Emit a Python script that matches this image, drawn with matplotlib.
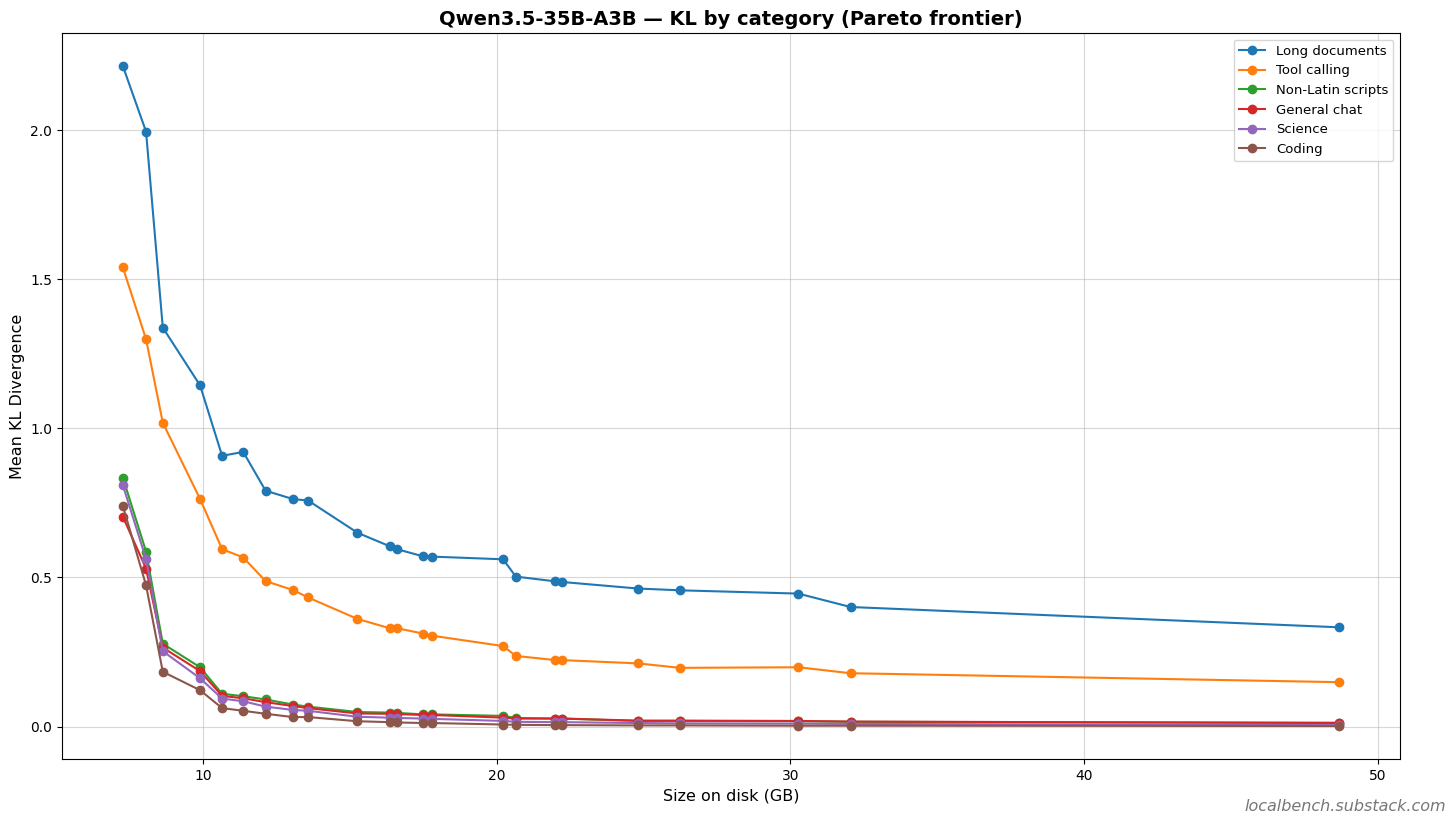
import matplotlib
matplotlib.use("Agg")
import matplotlib.pyplot as plt

# tamanho em disco (GB) dos quants no Pareto frontier
size_gb = [7.27, 8.06, 8.63, 9.90, 10.65, 11.37, 12.13, 13.06, 13.58, 15.26, 16.35, 16.60,
           17.49, 17.79, 20.22, 20.65, 22.00, 22.22, 24.81, 26.24, 30.27, 32.05, 48.69]

long_docs = [2.215, 1.995, 1.338, 1.144, 0.908, 0.921, 0.791, 0.763, 0.758, 0.650, 0.605, 0.595,
             0.571, 0.570, 0.561, 0.503, 0.487, 0.485, 0.463, 0.457, 0.446, 0.401, 0.333]
tool_calling = [1.540, 1.299, 1.019, 0.763, 0.595, 0.567, 0.488, 0.458, 0.433, 0.361, 0.330, 0.330,
                0.312, 0.305, 0.270, 0.237, 0.223, 0.223, 0.212, 0.197, 0.199, 0.179, 0.149]
non_latin = [0.835, 0.587, 0.278, 0.199, 0.110, 0.102, 0.091, 0.074, 0.067, 0.049, 0.047, 0.046,
             0.041, 0.041, 0.036, 0.029, 0.027, 0.027, 0.019, 0.019, 0.018, 0.016, 0.013]
general_chat = [0.704, 0.530, 0.265, 0.186, 0.103, 0.095, 0.082, 0.069, 0.062, 0.044, 0.043, 0.042,
                0.039, 0.039, 0.030, 0.027, 0.027, 0.027, 0.020, 0.020, 0.019, 0.017, 0.012]
science = [0.810, 0.562, 0.253, 0.162, 0.094, 0.085, 0.067, 0.056, 0.053, 0.033, 0.030, 0.029,
           0.027, 0.026, 0.019, 0.016, 0.015, 0.015, 0.012, 0.011, 0.010, 0.009, 0.005]
coding = [0.740, 0.474, 0.184, 0.122, 0.062, 0.053, 0.043, 0.032, 0.032, 0.018, 0.015, 0.014,
          0.012, 0.012, 0.007, 0.006, 0.005, 0.005, 0.004, 0.004, 0.003, 0.003, 0.002]

series = [
    ("Long documents", long_docs),
    ("Tool calling", tool_calling),
    ("Non-Latin scripts", non_latin),
    ("General chat", general_chat),
    ("Science", science),
    ("Coding", coding),
]

fig = plt.figure(figsize=(14.56, 8.21), dpi=100)
ax = fig.add_axes([0.0426, 0.0755, 0.919, 0.8843])

for nome, valores in series:
    ax.plot(size_gb, valores, marker="o", markersize=6, linewidth=1.5, label=nome)

ax.set_title("Qwen3.5-35B-A3B — KL by category (Pareto frontier)", fontsize=14, fontweight="bold")
ax.set_xlabel("Size on disk (GB)", fontsize=11.5)
ax.set_ylabel("Mean KL Divergence", fontsize=11.5)
ax.grid(True, alpha=0.5)
ax.legend(loc="upper right", fontsize=9.5)

fig.text(0.993, 0.008, "localbench.substack.com", ha="right", va="bottom",
         fontsize=11.5, style="italic", color="#777777")

fig.savefig("out.png", dpi=100)
plt.close(fig)
